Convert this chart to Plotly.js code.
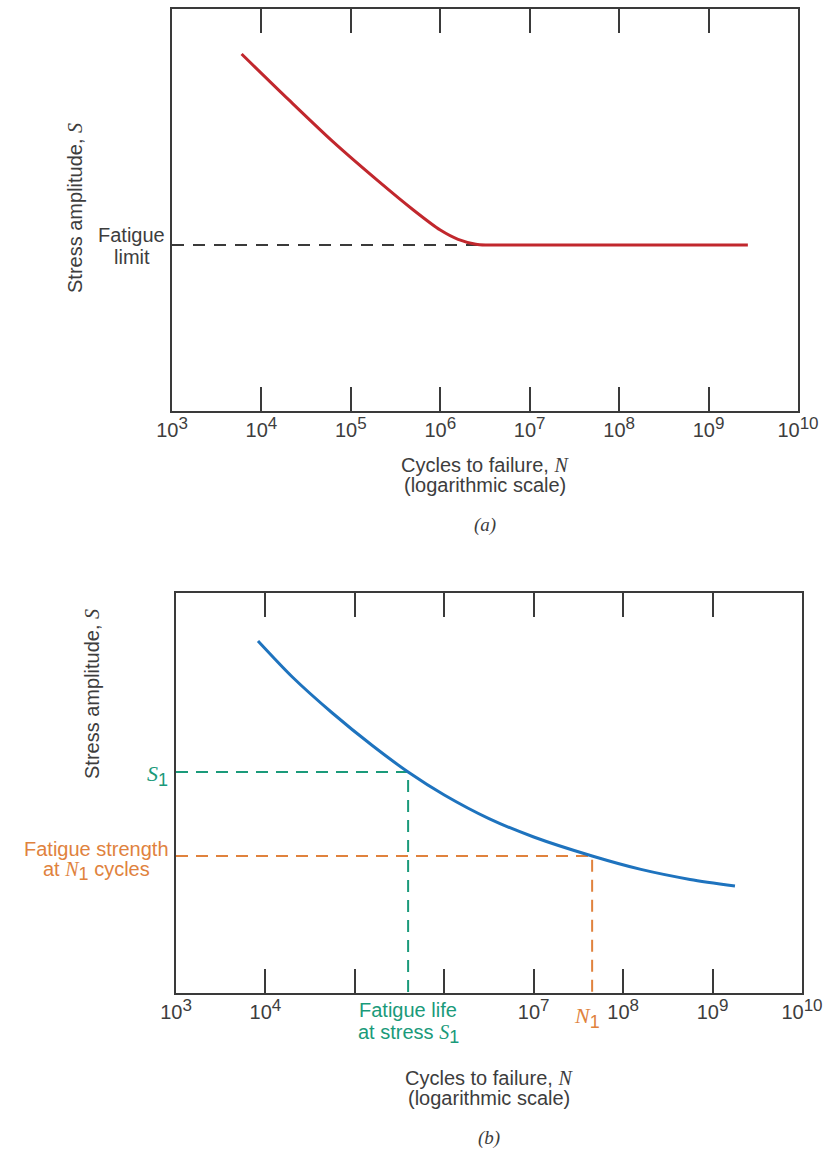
<!DOCTYPE html>
<html>
<head>
<meta charset="utf-8">
<script src="https://cdn.plot.ly/plotly-3.0.1.min.js"></script>
<style>html,body{margin:0;padding:0;background:#fff;}#chart{width:827px;height:1149px;}</style>
</head>
<body>
<div id="chart"></div>
<script>
// ---------- Data ----------
// (a) S-N curve with a fatigue limit
const curveA_N = [6.0e3, 2.0e4, 6.3e4, 2.0e5, 5.0e5, 1.0e6, 1.58e6, 2.5e6, 3.2e6, 1.0e7, 2.75e9];
const curveA_S = [88.8, 77.5, 67.0, 57.3, 50.0, 45.0, 42.7, 41.5, 41.3, 41.3, 41.3];
const fatigueLimitS = 41.3;
const fatigueLimitKneeN = 2.6e6;

// (b) S-N curve without a fatigue limit
const curveB_N = [8.26e3, 2.0e4, 5.6e4, 1.58e5, 3.94e5, 1.0e6, 3.16e6, 1.0e7, 4.5e7, 1.58e8, 5.6e8, 1.78e9];
const curveB_S = [88.0, 79.0, 70.0, 61.8, 55.25, 49.5, 43.6, 39.0, 34.25, 30.9, 28.4, 26.75];
const stressS1 = 55.25;
const lifeAtS1 = 3.94e5;
const cyclesN1 = 4.5e7;
const strengthAtN1 = 34.25;

// Axis ticks
const tickVals = [1e3, 1e4, 1e5, 1e6, 1e7, 1e8, 1e9, 1e10];
const tickExpA = ["3", "4", "5", "6", "7", "8", "9", "10"];
const tickExpB = ["3", "4", "", "", "7", "8", "9", "10"];

// ---------- Styling ----------
const W = 827, H = 1149;
const px = x => x / W;
const py = y => 1 - y / H;
const FONT = "Liberation Sans, Arial, sans-serif";
const TXT = "#3d3d3d";
const AX = "#3a3a3a";
const RED = "#c1272d", BLUE = "#1e73be", GREEN = "#1a9a7a", ORANGE = "#e0823d";
const serifI = t => "<span style=\"font-family:Liberation Serif\"><i>" + t + "</i></span>";
const sub1 = "<sub><span style=\"font-family:Liberation Sans;font-size:18px\">1</span></sub>";
const pow10 = e => e === "" ? "" : "10<sup><span style=\"font-size:17px\">" + e + "</span></sup>";
const tickTextA = tickExpA.map(pow10);
const tickTextB = tickExpB.map(pow10);

const traces = [
  {x: [1e3, fatigueLimitKneeN], y: [fatigueLimitS, fatigueLimitS], xaxis: "x", yaxis: "y",
   mode: "lines", line: {color: AX, width: 2, dash: "12px,9px"}, hoverinfo: "skip"},
  {x: curveA_N, y: curveA_S, xaxis: "x", yaxis: "y", mode: "lines",
   line: {color: RED, width: 3, shape: "spline", smoothing: 0.8}},
  {x: [1e3, lifeAtS1, lifeAtS1], y: [stressS1, stressS1, 0], xaxis: "x2", yaxis: "y2",
   mode: "lines", line: {color: GREEN, width: 2, dash: "12px,8px"}, hoverinfo: "skip"},
  {x: [1e3, cyclesN1, cyclesN1], y: [strengthAtN1, strengthAtN1, 0], xaxis: "x2", yaxis: "y2",
   mode: "lines", line: {color: ORANGE, width: 2, dash: "12px,8px"}, hoverinfo: "skip"},
  {x: curveB_N, y: curveB_S, xaxis: "x2", yaxis: "y2", mode: "lines",
   line: {color: BLUE, width: 3, shape: "spline", smoothing: 0.8}}
];

function xAx(domain, anchor, ticktext) {
  return {domain: domain, anchor: anchor, type: "log", range: [3, 10],
    tickmode: "array", tickvals: tickVals, ticktext: ticktext,
    ticks: "inside", ticklen: 24, tickwidth: 2, tickcolor: AX,
    showline: true, linecolor: AX, linewidth: 2, mirror: "ticks",
    showgrid: false, zeroline: false, fixedrange: true,
    tickfont: {family: FONT, size: 20, color: TXT}};
}
function yAx(domain, anchor) {
  return {domain: domain, anchor: anchor, range: [0, 100], showticklabels: false,
    ticks: "", showline: true, linecolor: AX, linewidth: 2, mirror: true,
    showgrid: false, zeroline: false, fixedrange: true};
}

function ann(text, x, y, opts) {
  return Object.assign({text: text, x: x, y: y, xref: "paper", yref: "paper",
    showarrow: false, xanchor: "center", yanchor: "middle",
    font: {family: FONT, size: 20, color: TXT}}, opts || {});
}

const annotations = [
  // (a)
  ann("Stress amplitude, " + serifI("S"), px(75), py(208), {textangle: -90}),
  ann("Fatigue", px(131), py(235)),
  ann("limit", px(132), py(257)),
  ann("Cycles to failure, " + serifI("N"), px(485), py(465)),
  ann("(logarithmic scale)", px(485), py(485)),
  ann(serifI("(a)"), px(485), py(525), {font: {family: "Liberation Serif", size: 19, color: TXT}}),
  // (b)
  ann("Stress amplitude, " + serifI("S"), px(92), py(694), {textangle: -90}),
  ann(serifI("S") + sub1, px(170), stressS1, {yref: "y2", xanchor: "right", yshift: -3,
    font: {family: "Liberation Serif", size: 22, color: GREEN}}),
  ann("Fatigue strength", px(96), py(849), {font: {family: FONT, size: 20, color: ORANGE}}),
  ann("at " + serifI("N") + sub1 + " cycles", px(96), py(871), {font: {family: FONT, size: 20, color: ORANGE}}),
  ann("Fatigue life", Math.log10(lifeAtS1), py(1010), {xref: "x2", font: {family: FONT, size: 20, color: GREEN}}),
  ann("at stress " + serifI("S") + sub1, Math.log10(lifeAtS1), py(1034), {xref: "x2", font: {family: FONT, size: 20, color: GREEN}}),
  ann(serifI("N") + sub1, Math.log10(cyclesN1), py(1018), {xref: "x2", xshift: -5,
    font: {family: "Liberation Serif", size: 22, color: ORANGE}}),
  ann("Cycles to failure, " + serifI("N"), px(489), py(1078)),
  ann("(logarithmic scale)", px(489), py(1098)),
  ann(serifI("(b)"), px(489), py(1138), {font: {family: "Liberation Serif", size: 19, color: TXT}})
];

const layout = {
  width: W, height: H, margin: {l: 0, r: 0, t: 0, b: 0},
  paper_bgcolor: "#ffffff", plot_bgcolor: "#ffffff", showlegend: false,
  xaxis: xAx([px(172), px(798)], "y", tickTextA),
  yaxis: yAx([py(411), py(9)], "x"),
  xaxis2: xAx([px(176), px(802)], "y2", tickTextB),
  yaxis2: yAx([py(993), py(593)], "x2"),
  annotations: annotations
};

Plotly.newPlot("chart", traces, layout, {displayModeBar: false, staticPlot: true});
</script>
</body>
</html>
